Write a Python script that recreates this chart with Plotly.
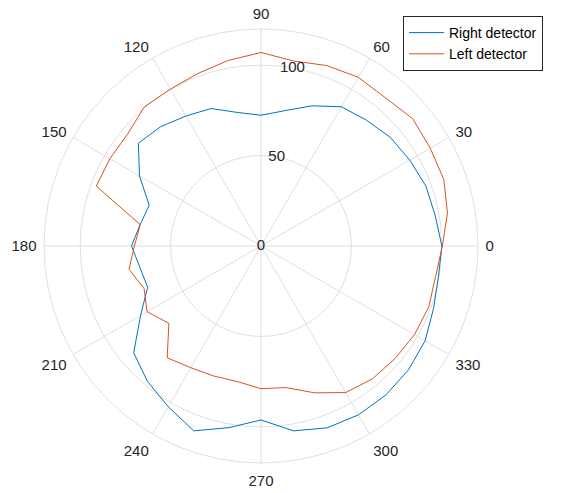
import plotly.graph_objects as go

angles = list(range(0, 361, 10))

right_detector = [100, 97.8, 97, 95, 93.4, 90.8, 88.9, 82.5, 76, 72.3,
                  75, 80.9, 83, 86.2, 88.5, 77.6, 65.8, 67.9, 71.6, 68,
                  66.7, 76.9, 91.9, 97.7, 102.6, 108.8, 102, 96.2, 103.8, 107,
                  107.8, 107.5, 106.5, 104.8, 101.5, 99.6, 100]

left_detector = [100.3, 104.7, 107.6, 108.1, 109.5, 107, 107.7, 106.2, 103.9, 107,
                 104.2, 101.6, 100.2, 100.4, 96.3, 96.5, 96.9, 67.8, 70, 74.1,
                 68.8, 72.7, 66.5, 80.7, 77.7, 76.5, 76.1, 78.9, 79.5, 86.4,
                 93.6, 95.9, 96.8, 98, 98.7, 98, 100.3]

theta_ticks = list(range(0, 360, 30))
theta_labels = [str(t) for t in theta_ticks]
r_ticks = [0, 50, 100]
r_labels = [str(v) for v in r_ticks]
r_max = 120
r_label_angle = 80

FONT = "Liberation Sans, Arial, Helvetica, sans-serif"
TXT = "#262626"
GRID = "#dfdfdf"
FS = 15

W, H = 571, 493
cx, cy, R = 261, 246, 217

fig = go.Figure()
fig.add_trace(go.Scatterpolar(r=right_detector, theta=angles, mode="lines",
                              name="Right detector",
                              line=dict(color="#0072BD", width=1)))
fig.add_trace(go.Scatterpolar(r=left_detector, theta=angles, mode="lines",
                              name="Left detector",
                              line=dict(color="#D95319", width=1)))
fig.add_trace(go.Scatterpolar(r=r_ticks, theta=[r_label_angle] * len(r_ticks),
                              mode="text", text=r_labels,
                              textfont=dict(family=FONT, size=FS, color=TXT),
                              showlegend=False, hoverinfo="skip", cliponaxis=False))

fig.update_layout(
    width=W, height=H,
    margin=dict(l=0, r=0, t=0, b=0),
    paper_bgcolor="white",
    font=dict(family=FONT, size=FS, color=TXT),
    polar=dict(
        domain=dict(x=[(cx - R) / W, (cx + R) / W],
                    y=[(H - cy - R) / H, (H - cy + R) / H]),
        bgcolor="white",
        radialaxis=dict(range=[0, r_max], tickvals=r_ticks, showticklabels=False,
                        ticks="", showline=False, gridcolor=GRID, gridwidth=1,
                        angle=r_label_angle),
        angularaxis=dict(tickvals=theta_ticks, ticktext=theta_labels,
                         direction="counterclockwise", rotation=0,
                         ticks="outside", ticklen=4, tickcolor="rgba(0,0,0,0)",
                         showline=True, linecolor=GRID, linewidth=1,
                         gridcolor=GRID, gridwidth=1,
                         tickfont=dict(family=FONT, size=FS, color=TXT)),
    ),
    legend=dict(x=403 / W, y=1 - 16 / H, xanchor="left", yanchor="top",
                bordercolor="#262626", borderwidth=1, bgcolor="white",
                font=dict(family=FONT, size=14, color="#000000"),
                tracegroupgap=0, itemwidth=35),
)

fig.write_html("out.html", config={"displayModeBar": False},
               post_script="document.body.style.margin='0';document.body.style.overflow='hidden';")
